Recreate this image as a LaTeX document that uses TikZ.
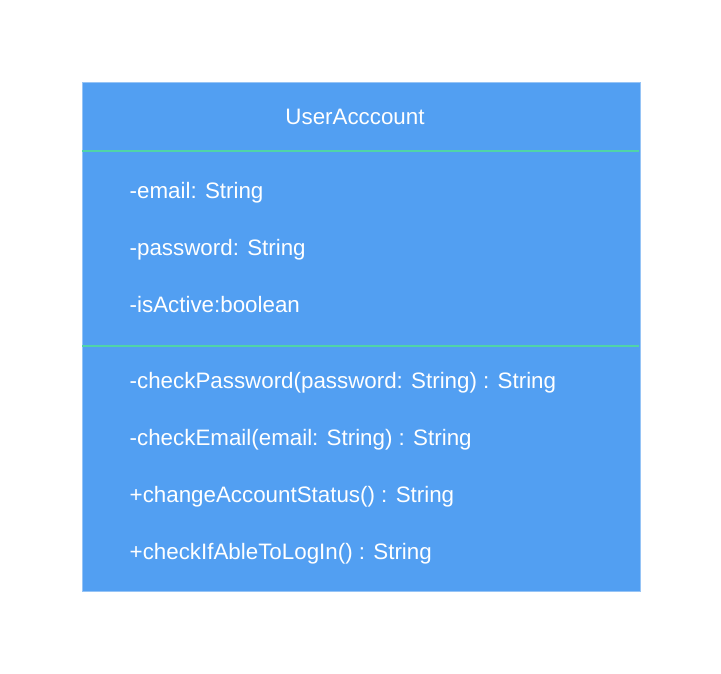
\documentclass[tikz,border=0pt]{standalone}
\usepackage{fontspec}
\setmainfont{Liberation Sans}
\definecolor{boxfill}{RGB}{82,159,242}
\definecolor{boxedge}{RGB}{150,196,246}
\definecolor{sepline}{RGB}{80,212,168}
\begin{document}
\begin{tikzpicture}[x=1pt,y=-1pt,
  lbl/.style={anchor=base west,inner sep=0pt,text=white,font=\fontsize{22.35}{26}\selectfont},
  ttl/.style={anchor=base,inner sep=0pt,text=white,font=\fontsize{22.35}{26}\selectfont}]
\useasboundingbox (0,0) rectangle (721,673);
\node[draw=boxedge,line width=1pt,fill=boxfill,minimum width=558pt,minimum height=509.5pt,inner sep=0pt,anchor=north west] (box) at (81.5,81.5) {};
\coordinate (s1l) at (82,151);
\coordinate (s1r) at (639,151);
\coordinate (s2l) at (82,346);
\coordinate (s2r) at (639,346);
\draw[sepline,line width=1.2pt] (s1l) -- (s1r);
\draw[sepline,line width=1.2pt] (s2l) -- (s2r);
\node[ttl] (title) at (355,124) {UserAcccount};
\node[lbl] (a1) at (129.5,198) {-email: String};
\node[lbl] (a2) at (129.5,255) {-password: String};
\node[lbl] (a3) at (129.5,312) {-isActive:boolean};
\node[lbl] (m1) at (129.5,388) {-checkPassword(password: String) : String};
\node[lbl] (m2) at (129.5,445) {-checkEmail(email: String) : String};
\node[lbl] (m3) at (129.5,502) {+changeAccountStatus() : String};
\node[lbl] (m4) at (129.5,559) {+checkIfAbleToLogIn() : String};
\end{tikzpicture}
\end{document}
